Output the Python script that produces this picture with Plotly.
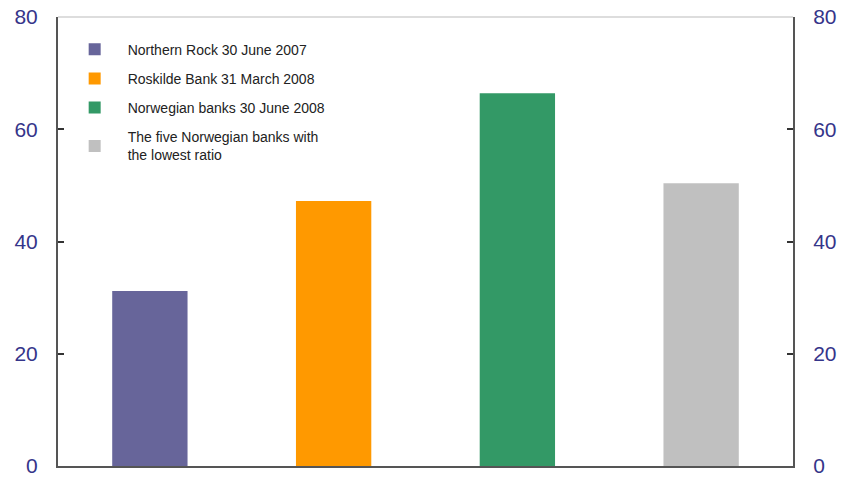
import plotly.graph_objects as go

categories = ["Northern Rock", "Roskilde Bank", "Norwegian banks", "Lowest five"]
series_names = [
    "Northern Rock 30 June 2007",
    "Roskilde Bank 31 March 2008",
    "Norwegian banks 30 June 2008",
    "The five Norwegian banks with<br>the lowest ratio",
]
values = [31.2, 47.2, 66.4, 50.4]
colors = ["#67659a", "#ff9900", "#339966", "#c0c0c0"]
tick_vals = [0, 20, 40, 60, 80]

fig = go.Figure()
for i, (cat, name, v, c) in enumerate(zip(categories, series_names, values, colors)):
    fig.add_trace(go.Bar(
        x=[cat], y=[v], name=name, marker=dict(color=c, line=dict(width=0)),
        width=0.41, legendgroup=f"g{i}",
    ))
# invisible trace for right axis
fig.add_trace(go.Scatter(x=[categories[0]], y=[0], yaxis="y2", mode="markers",
                         marker=dict(opacity=0), showlegend=False, hoverinfo="skip"))

tickfont = dict(family="Liberation Sans, Arial, sans-serif", size=21, color="#35358a")

fig.update_layout(
    width=845, height=481,
    margin=dict(l=58, r=52, t=17, b=15, autoexpand=False),
    paper_bgcolor="white", plot_bgcolor="white",
    barmode="overlay",
    showlegend=True,
    legend=dict(
        x=0.005, y=0.963, xanchor="left", yanchor="top",
        traceorder="grouped", tracegroupgap=8,
        itemwidth=56,
        font=dict(family="Liberation Sans, Arial, sans-serif", size=14, color="#222222"),
        bgcolor="rgba(0,0,0,0)",
    ),
    xaxis=dict(
        showline=True, linecolor="#555555", linewidth=2,
        showticklabels=False, ticks="", showgrid=False, zeroline=False,
        automargin=False,
    ),
    yaxis=dict(
        range=[0, 80], tickvals=tick_vals, showgrid=False, zeroline=False,
        showline=True, linecolor="#555555", linewidth=2,
        ticks="inside", ticklen=6, tickcolor="#333333", tickwidth=1.5,
        tickfont=tickfont, ticklabelstandoff=14, automargin=False,
    ),
    yaxis2=dict(
        range=[0, 80], tickvals=tick_vals, overlaying="y", side="right",
        showgrid=False, zeroline=False,
        showline=True, linecolor="#555555", linewidth=2,
        ticks="inside", ticklen=6, tickcolor="#333333", tickwidth=1.5,
        tickfont=tickfont, ticklabelstandoff=14, automargin=False,
    ),
    shapes=[dict(type="line", xref="paper", yref="paper", x0=0, x1=1, y0=1, y1=1,
                 line=dict(color="#dddddd", width=2))],
)

fig.write_html("out.html")
